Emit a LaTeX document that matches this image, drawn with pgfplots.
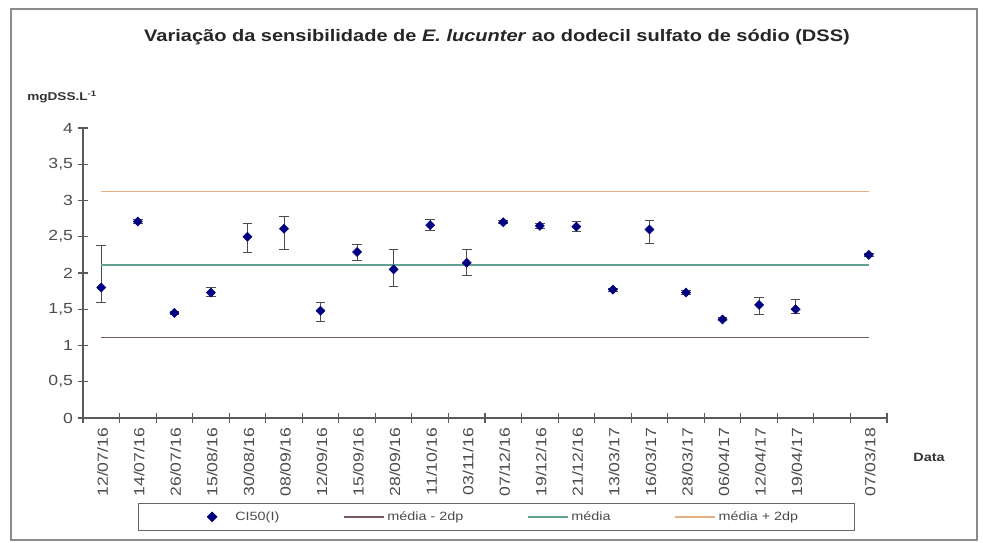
\documentclass[border=0pt]{standalone}
\usepackage{fontspec}
\setmainfont{Liberation Sans}[FakeStretch=1.2]
\usepackage{pgfplots}
\pgfplotsset{compat=1.18}
\definecolor{navyb}{RGB}{0,0,128}
\definecolor{lowc}{RGB}{115,90,95}
\definecolor{midc}{RGB}{100,160,145}
\definecolor{upc}{RGB}{230,175,130}
\definecolor{axc}{RGB}{90,90,90}
\begin{document}
\begin{tikzpicture}
\path[use as bounding box] (-62.25pt,-93.75pt) rectangle (675pt,313.5pt);
\draw[black!45, line width=1.4pt] (-54pt,-91.5pt) rectangle (670.5pt,306.75pt);
\begin{axis}[
  at={(0pt,0pt)}, anchor=south west,
  scale only axis, width=603pt, height=217.5pt,
  xmin=-0.5, xmax=21.5, ymin=0, ymax=4,
  axis lines=left,
  axis line style={-, draw=axc, line width=0.8pt},
  tick align=center,
  major tick length=8pt, minor tick length=8pt,
  tick style={draw=axc, line width=0.8pt},
  ytick={0,0.5,1,1.5,2,2.5,3,3.5,4},
  yticklabels={0,{0,5},1,{1,5},2,{2,5},3,{3,5},4},
  xtick={0,1,...,21},
  xticklabels={12/07/16,14/07/16,26/07/16,15/08/16,30/08/16,08/09/16,12/09/16,15/09/16,28/09/16,11/10/16,03/11/16,07/12/16,19/12/16,21/12/16,13/03/17,16/03/17,28/03/17,06/04/17,12/04/17,19/04/17,,07/03/18},
  minor xtick={-0.5,0.5,...,21.5},
  every major x tick/.append style={draw=none},
  ticklabel style={font=\fontsize{11}{12}\selectfont, text=black!70},
  xticklabel style={rotate=90, anchor=east, yshift=-1pt},
  legend columns=4,
  legend style={at={(0.514,-0.341)}, anchor=center, draw=black!60, line width=0.8pt,
    font=\fontsize{9}{10}\selectfont, text=black!70, inner xsep=40pt, inner ysep=4pt,
    /tikz/every even column/.append style={column sep=46pt}},
  legend image code/.code={\path (0pt,0pt) (30pt,0pt);\draw[#1, mark repeat=2, mark phase=2] plot coordinates {(0pt,0pt) (15pt,0pt) (30pt,0pt)};},
  clip=false,
]
\addplot[only marks, mark=square*, mark size=2.4pt, mark options={rotate=45}, color=navyb,
  error bars/.cd, y dir=both, y explicit,
  error bar style={black!70, line width=0.7pt},
  error mark options={rotate=90, black!70, mark size=3.6pt, line width=0.7pt}]
coordinates {
(0,1.80) += (0,0.58) -= (0,0.20)
(1,2.71) += (0,0.03) -= (0,0.03)
(2,1.45) += (0,0.02) -= (0,0.02)
(3,1.73) += (0,0.07) -= (0,0.05)
(4,2.50) += (0,0.19) -= (0,0.21)
(5,2.61) += (0,0.17) -= (0,0.29)
(6,1.48) += (0,0.12) -= (0,0.15)
(7,2.29) += (0,0.10) -= (0,0.12)
(8,2.05) += (0,0.27) -= (0,0.23)
(9,2.66) += (0,0.08) -= (0,0.07)
(10,2.14) += (0,0.19) -= (0,0.18)
(11,2.70) += (0,0.02) -= (0,0.02)
(12,2.65) += (0,0.03) -= (0,0.03)
(13,2.64) += (0,0.07) -= (0,0.07)
(14,1.77) += (0,0.02) -= (0,0.02)
(15,2.60) += (0,0.12) -= (0,0.19)
(16,1.73) += (0,0.03) -= (0,0.03)
(17,1.36) += (0,0.02) -= (0,0.02)
(18,1.56) += (0,0.10) -= (0,0.13)
(19,1.50) += (0,0.14) -= (0,0.06)
(21,2.25) += (0,0.02) -= (0,0.02)
};
\addlegendentry{CI50(I)}
\addplot[lowc, line width=1pt] coordinates {(0,1.11) (21,1.11)};
\addlegendentry{média - 2dp}
\addplot[midc, line width=1pt] coordinates {(0,2.11) (21,2.11)};
\addlegendentry{média}
\addplot[upc, line width=1pt] coordinates {(0,3.12) (21,3.12)};
\addlegendentry{média + 2dp}
\end{axis}
\node[font=\bfseries\fontsize{12.5}{14}\selectfont, text=black!85] at (310.5pt,285.75pt)
  {Variação da sensibilidade de \textit{E. lucunter} ao dodecil sulfato de sódio (DSS)};
\node[anchor=west, font=\bfseries\fontsize{8.5}{10}\selectfont, text=black!80, inner sep=0pt] at (-42pt,240.75pt)
  {mgDSS.L\textsuperscript{-1}};
\node[font=\bfseries\fontsize{9}{10}\selectfont, text=black!80] at (634.5pt,-29.25pt) {Data};
\end{tikzpicture}
\end{document}
